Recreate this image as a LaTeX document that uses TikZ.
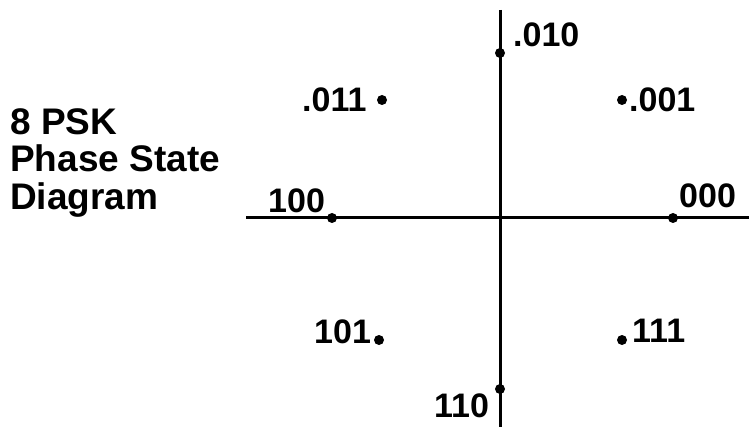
\documentclass[tikz,border=0pt]{standalone}
\usepackage{fontspec}
\setmainfont{Liberation Sans}
\begin{document}
\begin{tikzpicture}[x=1pt,y=-1pt,
  axis/.style={line width=3pt},
  pt/.style={circle,fill=black,inner sep=0pt,minimum size=10pt},
  lbl/.style={anchor=base west,inner sep=0pt,font=\fontsize{34}{38}\selectfont\bfseries},
  ttl/.style={anchor=base west,inner sep=0pt,align=left,font=\fontsize{37}{37.5}\selectfont\bfseries}]
\useasboundingbox (0,0) rectangle (749,427);
% axes
\coordinate (xl) at (246,218);
\coordinate (xr) at (749,218);
\coordinate (yt) at (500,10);
\coordinate (yb) at (500,427);
\draw[axis] (xl) -- (xr);
\draw[axis] (yt) -- (yb);
% phase points
\node[pt] (p000) at (673,218) {};
\node[pt] (p001) at (622,100) {};
\node[pt] (p010) at (500,53) {};
\node[pt] (p011) at (382,100) {};
\node[pt] (p100) at (332,218) {};
\node[pt] (p101) at (379,340) {};
\node[pt] (p110) at (500,389) {};
\node[pt] (p111) at (622,340) {};
% labels
\node[lbl] (l010) at (513,47) {.010};
\node[lbl] (l011) at (302,112) {.011};
\node[lbl] (l001) at (629,112) {.001};
\node[lbl] (l100) at (268,213) {100};
\node[lbl] (l000) at (679,208) {000};
\node[lbl] (l101) at (314,343) {101};
\node[lbl] (l111) at (632,342) {111};
\node[lbl] (l110) at (434,417) {110};
% title
\node[ttl] (t1) at (10,135) {8 PSK};
\node[ttl] (t2) at (10,172) {Phase State};
\node[ttl] (t3) at (10,210) {Diagram};
\end{tikzpicture}
\end{document}
